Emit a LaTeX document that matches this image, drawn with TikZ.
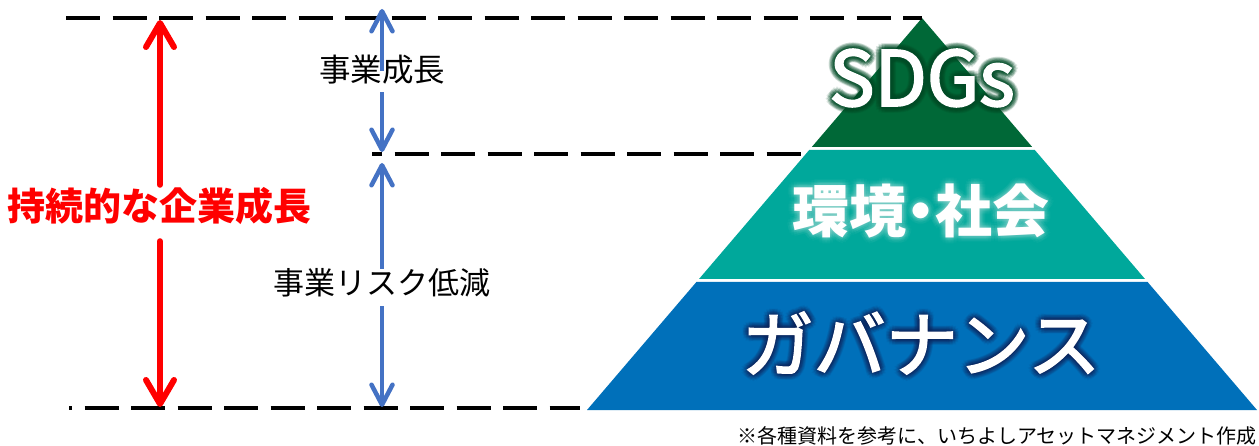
\documentclass[tikz,border=0pt]{standalone}
\usepackage{fontspec}
\newfontfamily\jp{Noto Sans CJK JP}
\newfontfamily\jpm{Noto Sans CJK JP}[FakeBold=2.5]
\newfontfamily\jpp{Noto Sans CJK JP}[RawFeature=+palt]
\usetikzlibrary{arrows.meta,calc}
\definecolor{sdg}{RGB}{0,104,55}
\definecolor{sdgglow}{RGB}{0,75,38}
\definecolor{env}{RGB}{0,168,155}
\definecolor{envglow}{RGB}{200,240,235}
\definecolor{gov}{RGB}{0,112,186}
\definecolor{govglow}{RGB}{20,35,90}
\definecolor{barr}{RGB}{68,114,196}
\definecolor{rarr}{RGB}{255,0,0}
\newcommand\glowlabel[6]{% name, position, font, glow colour, opacity, text
  \foreach \r in {2,4,6}{\foreach \a in {0,30,...,330}{%
    \node[font=#3,text=#4,text opacity=#5,inner sep=0] (#1g\r a\a) at ($(#2)+(\a:\r pt)$) {#6};}}
  \node[font=#3,text=white,inner sep=0] (#1) at (#2) {#6};}
\begin{document}
\begin{tikzpicture}[x=1pt,y=-1pt,
  dline/.style={line width=4pt,black,dash pattern=on 34pt off 12.5pt},
  redarr/.style={line width=6pt,rarr,line cap=round,-{Straight Barb[length=24pt,width=28pt,round]}},
  bluearr/.style={line width=4.5pt,barr,-{Straight Barb[length=20pt,width=21pt,round]}},
  lbl/.style={inner sep=0,text height=0.88em,text depth=0.12em}]
\useasboundingbox (0,0) rectangle (1259,446);
% pyramid
\coordinate (apex) at (922,18);
\fill[sdg] (apex) -- (1032.2,147) -- (811.8,147) -- cycle;
\fill[env] (809.2,150) -- (1034.8,150) -- (1145,279) -- (699,279) -- cycle;
\fill[gov] (696.4,282) -- (1147.6,282) -- (1257,410) -- (587,410) -- cycle;
% dashed lines
\coordinate (tl) at (66,18);
\coordinate (ml) at (372,154);
\coordinate (mr) at (811,154);
\coordinate (bl) at (69,408);
\coordinate (br) at (580,408);
\draw[dline] (tl) -- (apex);
\draw[dline,dash phase=24pt] (ml) -- (mr);
\draw[dline,dash phase=31pt] (bl) -- (br);
% pyramid labels
\glowlabel{sdgs}{922,78}{\jpm\fontsize{76}{80}\selectfont}{sdgglow}{0.13}{SDGs}
\glowlabel{envlbl}{921,211}{\jpp\bfseries\fontsize{57}{60}\selectfont}{envglow}{0.035}{環境・社会}
\glowlabel{govlbl}{921,343}{\jpm\fontsize{72}{76}\selectfont}{govglow}{0.08}{ガバナンス}
% red arrow
\coordinate (rtop) at (160,20);
\coordinate (rbot) at (160,407);
\node[lbl,font=\jp\bfseries\fontsize{38}{40}\selectfont,text=rarr] (rlbl) at (160,217) {持続的な企業成長};
\draw[redarr,shorten <=27pt] (rlbl.north) -- (rtop);
\draw[redarr,shorten <=19pt] (rlbl.south) -- (rbot);
% blue arrows
\coordinate (b1top) at (382,9);
\coordinate (b1bot) at (382,152);
\coordinate (b2top) at (382,163);
\coordinate (b2bot) at (382,407);
\node[lbl,font=\jp\fontsize{31.5}{34}\selectfont] (blbl1) at (382,78) {事業成長};
\node[lbl,font=\jp\fontsize{31}{34}\selectfont] (blbl2) at (382,291) {事業リスク低減};
\draw[bluearr,shorten <=2.25pt] (blbl1.north) -- (b1top);
\draw[bluearr,shorten <=9.25pt] (blbl1.south) -- (b1bot);
\draw[bluearr,shorten <=17pt] (blbl2.north) -- (b2top);
\draw[bluearr,shorten <=10pt] (blbl2.south) -- (b2bot);
% footnote
\node[anchor=east,inner sep=0,font=\jp\fontsize{20}{22}\selectfont] (note) at (1257,436) {※各種資料を参考に、いちよしアセットマネジメント作成};
\end{tikzpicture}
\end{document}
